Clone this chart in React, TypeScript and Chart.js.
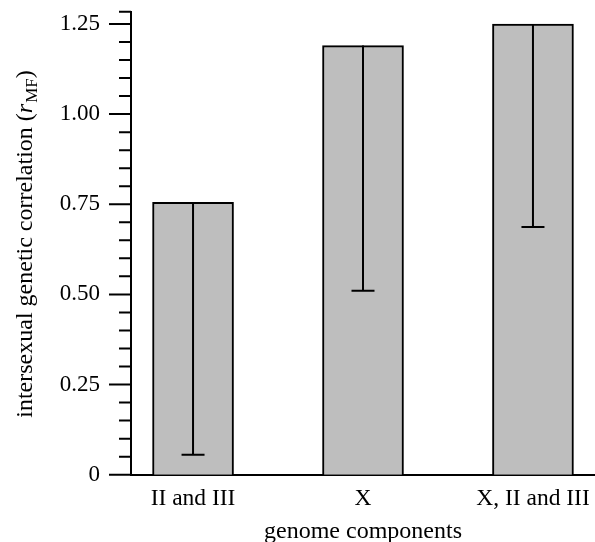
import React, { useEffect, useRef } from "react";
import { Chart, registerables } from "chart.js";

Chart.register(...registerables);

const categories = ["II and III", "X", "X, II and III"];
const correlations = [0.755, 1.19, 1.25];
const lowerBounds = [0.055, 0.51, 0.687];
const majorTicks = [0, 0.25, 0.5, 0.75, 1.0, 1.25];
const minorTicks = [
  0.05, 0.1, 0.15, 0.2, 0.3, 0.35, 0.4, 0.45, 0.55, 0.6, 0.65, 0.7, 0.8, 0.85,
  0.9, 0.95, 1.05, 1.1, 1.15, 1.2,
];
const yMax = 1.284;
const xMin = -0.365;
const xMax = 2.365;
const xTitle = "genome components";
const yTitleMain = "intersexual genetic correlation (";
const yTitleVar = "r";
const yTitleSub = "MF";
const yTitleEnd = ")";

const FONT_FAMILY = '"Liberation Serif", "Times New Roman", serif';
const FONT_SIZE = 23;

const customDraw = {
  id: "customDraw",
  afterDatasetsDraw(chart: any) {
    const ctx = chart.ctx;
    const xs = chart.scales.x;
    const ys = chart.scales.y;
    ctx.save();
    ctx.strokeStyle = "#000";
    ctx.lineWidth = 2;
    ctx.lineCap = "butt";
    categories.forEach((_, i) => {
      const x = xs.getPixelForValue(i);
      const yTop = ys.getPixelForValue(correlations[i]);
      const yLow = ys.getPixelForValue(lowerBounds[i]);
      ctx.beginPath();
      ctx.moveTo(x, yTop);
      ctx.lineTo(x, yLow);
      ctx.moveTo(x - 11.5, yLow);
      ctx.lineTo(x + 11.5, yLow);
      ctx.stroke();
    });
    ctx.restore();
  },
  afterDraw(chart: any) {
    const ctx = chart.ctx;
    const ys = chart.scales.y;
    const left = chart.chartArea.left;
    ctx.save();
    ctx.strokeStyle = "#000";
    ctx.lineWidth = 2;
    ctx.beginPath();
    majorTicks.forEach((v) => {
      const y = ys.getPixelForValue(v);
      ctx.moveTo(left - 22, y);
      ctx.lineTo(left, y);
    });
    [...minorTicks, yMax].forEach((v) => {
      const y = ys.getPixelForValue(v);
      ctx.moveTo(left - 12, y);
      ctx.lineTo(left, y);
    });
    ctx.stroke();

    ctx.fillStyle = "#000";
    ctx.font = `24px ${FONT_FAMILY}`;
    ctx.textAlign = "center";
    ctx.textBaseline = "alphabetic";
    const cx = (chart.chartArea.left + chart.chartArea.right) / 2;
    ctx.fillText(xTitle, cx, 538);

    const TS = 24;
    const normalFont = `${TS}px ${FONT_FAMILY}`;
    const italicFont = `italic ${TS}px ${FONT_FAMILY}`;
    const subFont = `${Math.round(TS * 0.72)}px ${FONT_FAMILY}`;
    ctx.textAlign = "left";
    ctx.font = normalFont;
    const w1 = ctx.measureText(yTitleMain).width;
    ctx.font = italicFont;
    const w2 = ctx.measureText(yTitleVar).width + 1;
    ctx.font = subFont;
    const w3 = ctx.measureText(yTitleSub).width;
    ctx.font = normalFont;
    const w4 = ctx.measureText(yTitleEnd).width;
    const total = w1 + w2 + w3 + w4;
    const cy = 244;
    ctx.translate(32, cy);
    ctx.rotate(-Math.PI / 2);
    let x = -total / 2;
    ctx.font = normalFont;
    ctx.fillText(yTitleMain, x, 0);
    x += w1;
    ctx.font = italicFont;
    ctx.fillText(yTitleVar, x, 0);
    x += w2;
    ctx.font = subFont;
    ctx.fillText(yTitleSub, x, 5);
    x += w3;
    ctx.font = normalFont;
    ctx.fillText(yTitleEnd, x, 0);
    ctx.restore();
  },
};

export default function App() {
  const canvasRef = useRef<HTMLCanvasElement | null>(null);

  useEffect(() => {
    if (!canvasRef.current) return;
    const chart = new Chart(canvasRef.current, {
      type: "bar",
      data: {
        datasets: [
          {
            data: categories.map((_, i) => ({ x: i, y: correlations[i] })),
            backgroundColor: "rgb(190,190,190)",
            borderColor: "#000",
            borderWidth: 2,
            barThickness: 81,
          },
        ],
      },
      options: {
        animation: false,
        responsive: false,
        devicePixelRatio: 1,
        layout: { padding: { top: 11.7, right: 0, bottom: 0, left: 0 } },
        plugins: {
          legend: { display: false },
          tooltip: { enabled: false },
          title: { display: false },
        },
        scales: {
          x: {
            type: "linear",
            offset: false,
            bounds: "data",
            min: xMin,
            max: xMax,
            grid: { display: false, drawTicks: false, offset: false },
            border: { display: true, color: "#000", width: 2 },
            ticks: {
              color: "#000",
              font: { family: FONT_FAMILY, size: 23.5 },
              padding: 10,
              maxRotation: 0,
              autoSkip: false,
              callback: (v: any) => categories[v] ?? "",
            },
            afterBuildTicks: (s: any) => {
              s.ticks = categories.map((_, i) => ({ value: i }));
              s.min = xMin;
              s.max = xMax;
            },
            afterFit: (s: any) => {
              s.height = 542 - 474.7;
              s.paddingLeft = 0;
              s.paddingRight = 0;
            },
          },
          y: {
            type: "linear",
            min: 0,
            max: yMax,
            grid: { display: false, drawTicks: false },
            border: { display: true, color: "#000", width: 2 },
            ticks: {
              color: "#000",
              font: { family: FONT_FAMILY, size: FONT_SIZE },
              padding: 31,
              callback: (v: any) => (v === 0 ? "0" : Number(v).toFixed(2)),
            },
            afterBuildTicks: (s: any) => {
              s.ticks = majorTicks.map((v) => ({ value: v }));
              s.min = 0;
              s.max = yMax;
            },
            afterFit: (s: any) => {
              s.width = 131;
              s.paddingTop = 0;
              s.paddingBottom = 0;
            },
          },
        },
      },
      plugins: [customDraw],
    });
    return () => chart.destroy();
  }, []);

  return (
    <div style={{ position: "absolute", left: 0, top: 0, width: 595, height: 542 }}>
      <canvas ref={canvasRef} width={595} height={542} />
    </div>
  );
}
